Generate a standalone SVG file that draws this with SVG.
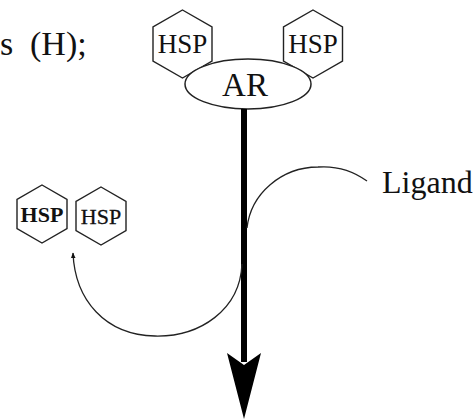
<svg xmlns="http://www.w3.org/2000/svg" width="475" height="419" viewBox="0 0 475 419">
  <style>
    .t { font-family: "Liberation Serif", "Times New Roman", serif; fill: #111; }
    .hex { fill: #fff; stroke: #222; stroke-width: 1.4; }
    .arc { fill: none; stroke: #222; stroke-width: 1.3; }
  </style>
  <defs>
    <marker id="small" viewBox="0 0 10 10" refX="9" refY="5" markerWidth="6" markerHeight="6" orient="auto" markerUnits="userSpaceOnUse">
      <path d="M0,1 L10,5 L0,9 z" fill="#111"/>
    </marker>
  </defs>
  <rect width="475" height="419" fill="#fff"/>

  <g id="caption">
    <text class="t" x="0" y="55" font-size="34">s</text>
    <text class="t" x="30" y="55" font-size="34">(H);</text>
  </g>

  <g id="hsp-top-left">
    <polygon class="hex" points="182.5,10 212,27 212,61 182.5,78 153,61 153,27"/>
    <text class="t" x="182.5" y="53" font-size="27" text-anchor="middle">HSP</text>
  </g>
  <g id="hsp-top-right">
    <polygon class="hex" points="313,10 342.5,27 342.5,61 313,78 283.5,61 283.5,27"/>
    <text class="t" x="313" y="53" font-size="27" text-anchor="middle">HSP</text>
  </g>
  <g id="ar">
    <ellipse cx="248" cy="84" rx="63" ry="25" fill="#fff" stroke="#222" stroke-width="1.5"/>
    <text class="t" x="245" y="96" font-size="33" text-anchor="middle">AR</text>
  </g>

  <g id="hsp-free-1">
    <polygon class="hex" points="42,185 67,199.5 67,228.5 42,243 17,228.5 17,199.5"/>
    <text class="t" x="42" y="222" font-size="22" font-weight="bold" text-anchor="middle">HSP</text>
  </g>
  <g id="hsp-free-2">
    <polygon class="hex" points="101,187 126,201.5 126,230.5 101,245 76,230.5 76,201.5"/>
    <text class="t" x="101" y="224" font-size="22" text-anchor="middle" stroke="#111" stroke-width="0.3">HSP</text>
  </g>

  <g id="ligand">
    <text class="t" x="382" y="193" font-size="32">Ligand</text>
  </g>

  <g id="connectors">
    <line x1="244" y1="109" x2="244" y2="362" stroke="#000" stroke-width="6"/>
    <polygon points="227,353 244,365 261,353 244,419" fill="#000"/>
    <path class="arc" d="M 367 181 Q 345 165 318 167 A 72 68 0 0 0 247 228"/>
    <path class="arc" d="M 242 264 C 240 310, 200 337, 155 336 C 105 335, 75 300, 73 253" marker-end="url(#small)"/>
  </g>
</svg>
